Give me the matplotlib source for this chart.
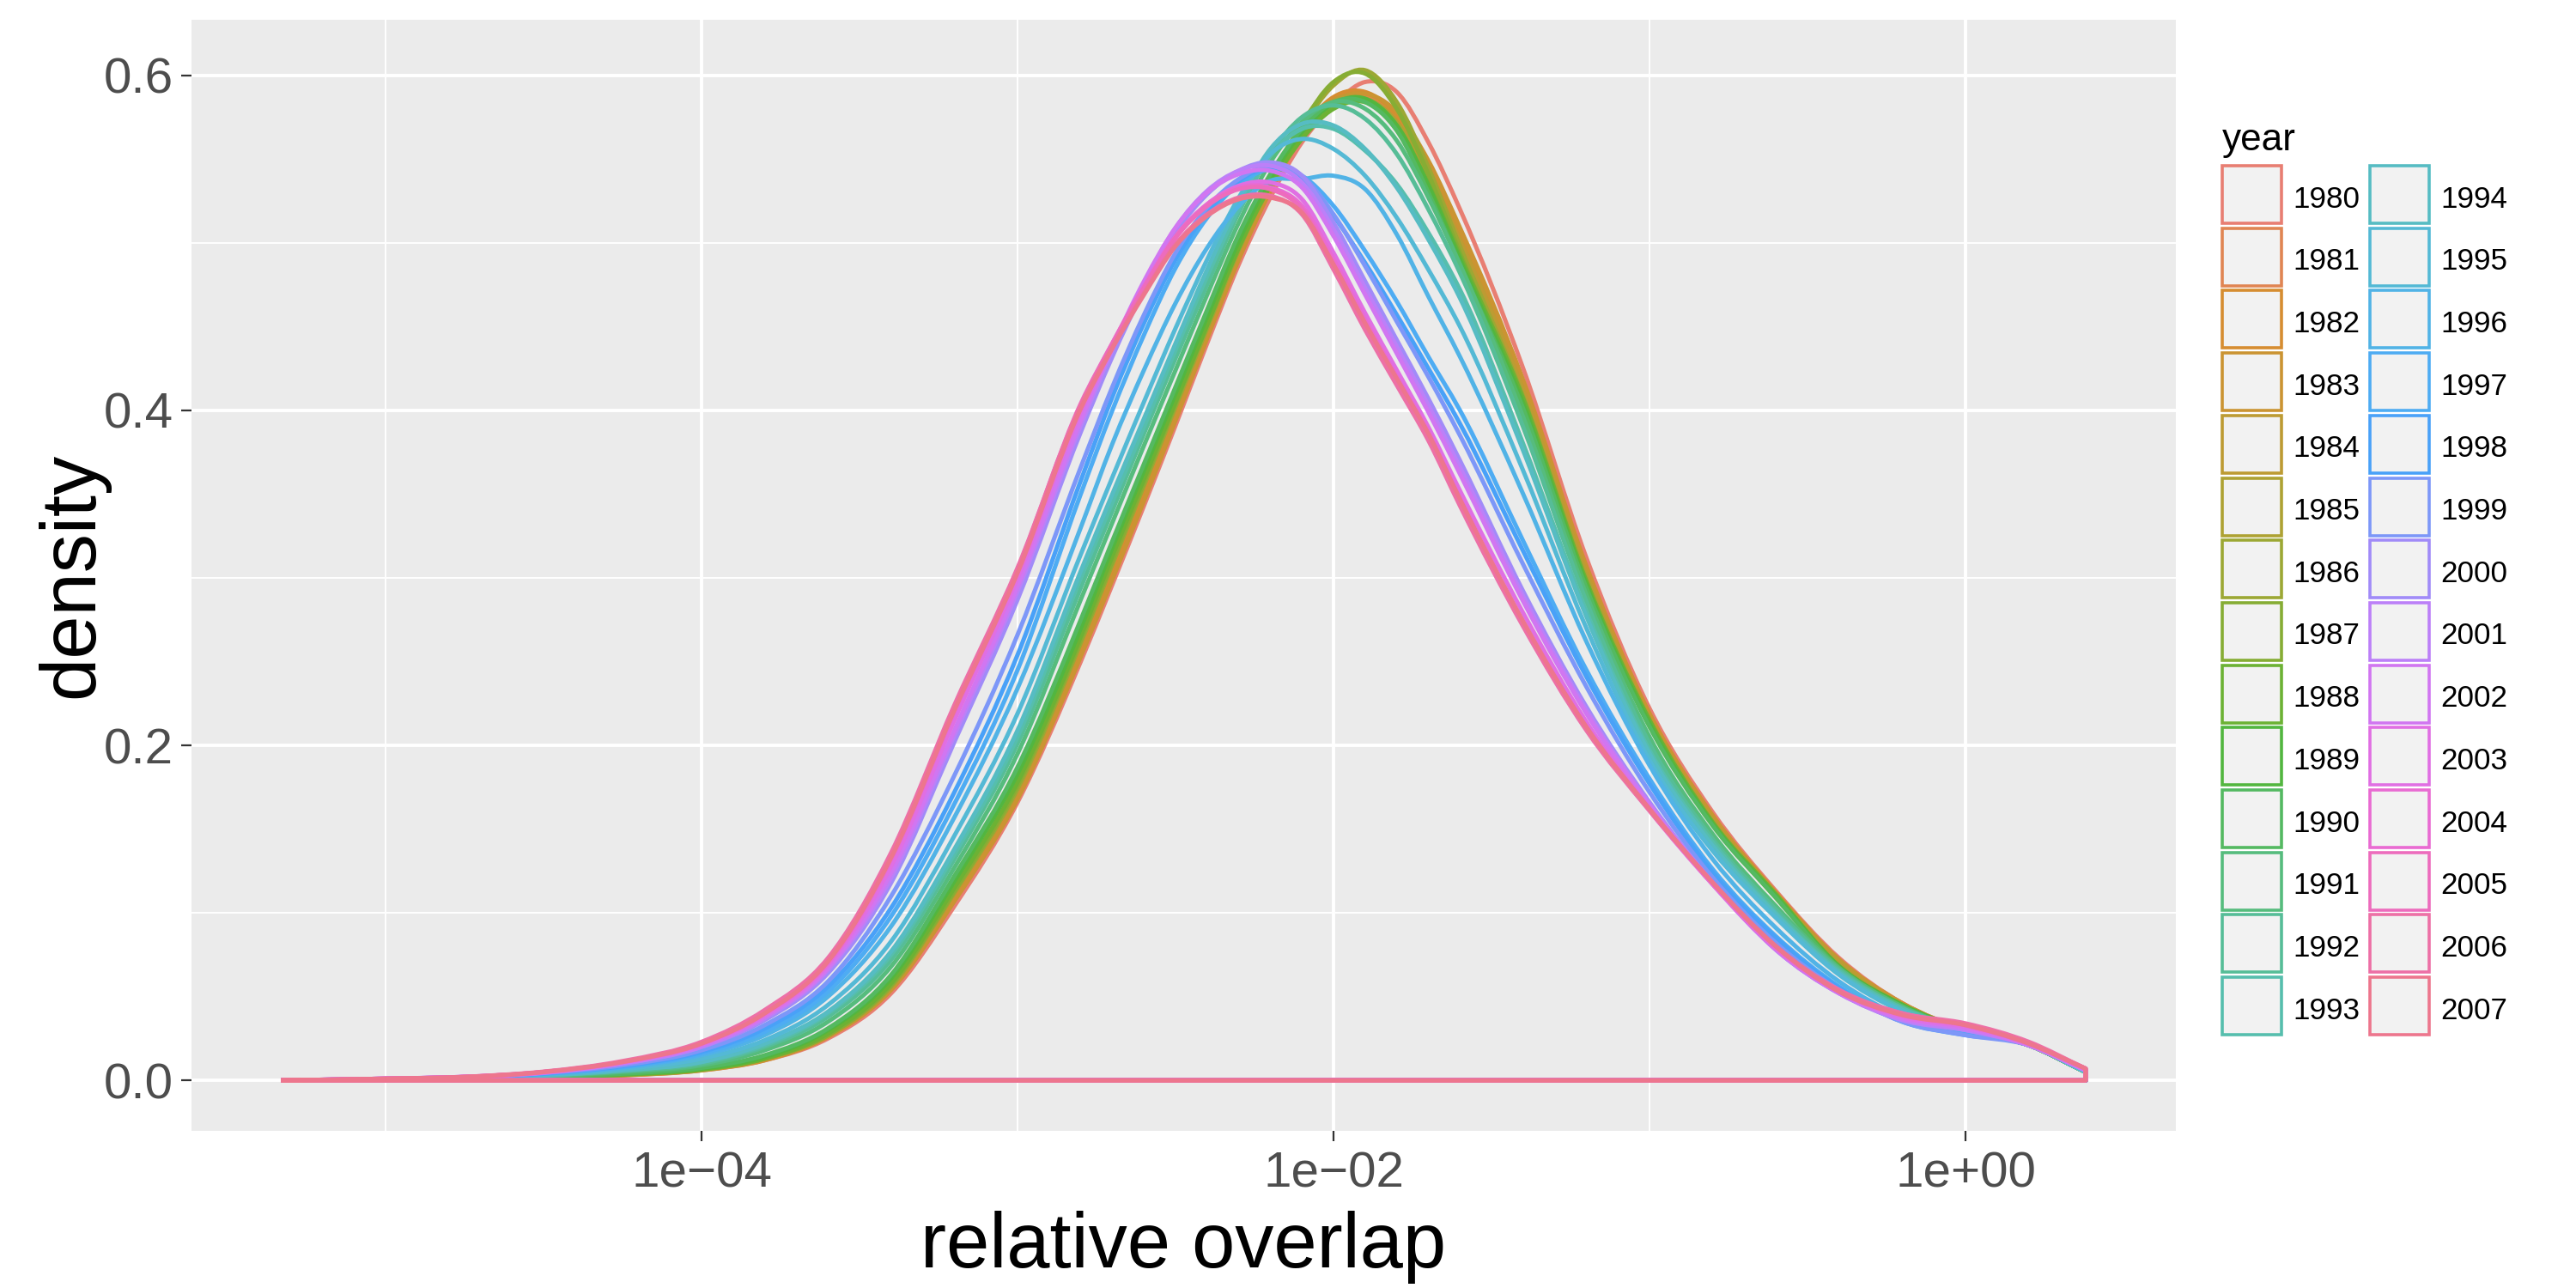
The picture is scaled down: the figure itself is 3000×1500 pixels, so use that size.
import numpy as np
import matplotlib
matplotlib.use("Agg")
import matplotlib.pyplot as plt
from matplotlib.patches import Rectangle, PathPatch
from matplotlib.path import Path
from matplotlib.ticker import FixedLocator, FixedFormatter, NullFormatter

plt.rcParams['font.family'] = ['Liberation Sans', 'DejaVu Sans']

# --- data (density of log10 relative overlap, per year) ---
YEARS = list(range(1980, 2008))

# positions on the x axis, as log10(relative overlap)
LOG_X = [-5.33, -5.0, -4.75, -4.5, -4.25, -4.0, -3.8, -3.6, -3.4, -3.2, -3.0,
         -2.8, -2.7, -2.6, -2.5, -2.4, -2.3, -2.2, -2.1, -2.0, -1.9, -1.8,
         -1.7, -1.6, -1.4, -1.2, -1.0, -0.8, -0.6, -0.4, -0.2, 0.0, 0.2, 0.38]

DENSITY = [
    # 1980
    [0, .0004, .0009, .0016, .003, .006, .012, .025, .052, .104, .166, .250, .296, .343, .391, .440, .487,
     .527, .560, .582, .596, .590, .560, .520, .425, .312, .222, .160, .113, .073, .046, .030, .021, .005],
    # 1981
    [0, .0004, .0009, .0017, .0032, .0062, .013, .027, .055, .108, .170, .256, .302, .350, .398, .446, .493,
     .533, .565, .584, .588, .574, .545, .505, .414, .305, .218, .158, .112, .072, .046, .030, .021, .005],
    # 1982
    [0, .0005, .001, .0018, .0034, .0065, .013, .027, .056, .110, .172, .258, .305, .352, .400, .448, .495,
     .535, .567, .587, .590, .576, .546, .506, .414, .304, .217, .157, .111, .071, .045, .030, .021, .005],
    # 1983
    [0, .0004, .0009, .0016, .003, .006, .012, .026, .054, .107, .168, .253, .299, .346, .394, .443, .490,
     .531, .563, .584, .589, .578, .549, .509, .418, .307, .219, .158, .112, .072, .046, .030, .021, .005],
    # 1984
    [0, .0005, .001, .0018, .0035, .0066, .014, .029, .058, .113, .176, .262, .309, .356, .403, .450, .496,
     .535, .566, .585, .586, .572, .542, .502, .412, .303, .216, .156, .111, .071, .045, .030, .021, .005],
    # 1985
    [0, .0005, .001, .0018, .0035, .0065, .013, .028, .058, .115, .178, .265, .312, .358, .404, .450, .496,
     .534, .563, .581, .586, .572, .538, .495, .408, .300, .215, .154, .110, .069, .045, .030, .021, .005],
    # 1986
    [0, .0005, .001, .0017, .0033, .0063, .013, .027, .056, .112, .174, .261, .308, .355, .402, .449, .496,
     .536, .569, .594, .603, .584, .545, .498, .408, .298, .213, .153, .110, .068, .045, .030, .021, .005],
    # 1987
    [0, .0005, .001, .0018, .0034, .0064, .013, .027, .057, .113, .176, .263, .310, .357, .404, .451, .498,
     .538, .571, .596, .601, .580, .541, .494, .405, .297, .213, .153, .109, .068, .045, .030, .021, .005],
    # 1988
    [0, .0005, .001, .0018, .0035, .0065, .013, .028, .058, .115, .178, .265, .313, .359, .405, .451, .497,
     .534, .562, .580, .584, .570, .535, .492, .407, .298, .215, .154, .111, .068, .045, .030, .021, .005],
    # 1989
    [0, .0006, .0012, .002, .0038, .007, .014, .030, .061, .119, .183, .270, .318, .364, .410, .456, .501,
     .538, .566, .583, .586, .570, .534, .490, .404, .296, .213, .153, .110, .068, .045, .030, .021, .005],
    # 1990
    [0, .0006, .0012, .0021, .004, .0075, .015, .031, .063, .122, .187, .275, .322, .368, .414, .460, .505,
     .541, .568, .584, .584, .567, .530, .487, .401, .294, .211, .152, .109, .067, .044, .030, .021, .005],
    # 1991
    [0, .0006, .0013, .0025, .005, .009, .018, .035, .068, .127, .195, .287, .333, .379, .424, .469, .512,
     .548, .572, .584, .580, .561, .527, .487, .396, .290, .205, .147, .104, .067, .044, .030, .021, .005],
    # 1992
    [0, .0007, .0014, .0028, .0055, .010, .020, .038, .072, .132, .201, .294, .340, .386, .431, .475, .518,
     .553, .575, .582, .574, .553, .520, .482, .390, .286, .201, .144, .102, .066, .043, .030, .021, .005],
    # 1993
    [0, .0007, .0014, .003, .006, .011, .021, .040, .075, .135, .205, .300, .345, .390, .436, .480, .520,
     .552, .568, .568, .555, .535, .506, .472, .380, .280, .197, .142, .100, .065, .043, .030, .021, .005],
    # 1994
    [0, .0007, .0015, .003, .006, .011, .022, .041, .077, .138, .209, .304, .350, .395, .440, .484, .524,
     .556, .571, .570, .556, .533, .502, .467, .376, .277, .195, .140, .099, .064, .042, .029, .021, .005],
    # 1995
    [0, .0008, .0016, .0034, .0068, .013, .024, .045, .083, .146, .219, .314, .360, .405, .449, .490, .527,
     .553, .562, .556, .540, .515, .484, .450, .364, .270, .191, .137, .097, .063, .041, .029, .021, .005],
    # 1996
    [0, .0008, .0017, .0038, .0076, .015, .027, .050, .092, .157, .234, .330, .380, .424, .464, .497, .522,
     .537, .538, .540, .532, .505, .468, .432, .350, .262, .188, .132, .091, .059, .038, .028, .022, .006],
    # 1997
    [0, .0008, .0017, .004, .008, .016, .029, .053, .098, .165, .245, .350, .400, .445, .485, .515, .535,
     .544, .540, .522, .495, .465, .432, .400, .322, .245, .180, .126, .086, .056, .036, .028, .022, .006],
    # 1998
    [0, .0009, .0018, .0042, .0085, .017, .031, .056, .103, .172, .254, .358, .408, .452, .490, .518, .537,
     .545, .538, .516, .488, .457, .425, .392, .316, .241, .177, .124, .085, .055, .035, .027, .022, .006],
    # 1999
    [0, .0009, .0019, .0044, .009, .018, .033, .059, .110, .182, .266, .366, .414, .457, .494, .521, .538,
     .546, .540, .517, .486, .453, .420, .385, .308, .235, .172, .121, .082, .054, .035, .027, .021, .006],
    # 2000
    [0, .001, .002, .0045, .010, .020, .036, .064, .118, .202, .287, .387, .432, .472, .506, .529, .543,
     .548, .540, .512, .477, .442, .407, .370, .292, .223, .166, .118, .078, .052, .036, .030, .021, .006],
    # 2001
    [0, .001, .002, .0046, .010, .020, .037, .066, .121, .206, .292, .391, .436, .476, .509, .531, .543,
     .546, .536, .508, .473, .438, .403, .366, .289, .221, .165, .118, .078, .052, .036, .030, .021, .006],
    # 2002
    [0, .001, .0021, .0047, .0105, .021, .038, .067, .124, .209, .295, .394, .438, .477, .509, .530, .541,
     .543, .533, .504, .469, .434, .399, .362, .286, .219, .164, .117, .078, .052, .037, .031, .021, .006],
    # 2003
    [0, .001, .0021, .0048, .0108, .0215, .039, .069, .128, .215, .300, .399, .437, .472, .503, .523, .534,
     .536, .526, .494, .458, .424, .390, .352, .279, .214, .162, .117, .079, .053, .038, .032, .022, .007],
    # 2004
    [0, .001, .002, .005, .011, .022, .040, .070, .132, .220, .304, .403, .440, .474, .504, .523, .533,
     .533, .522, .490, .454, .420, .387, .347, .273, .211, .161, .117, .079, .053, .039, .033, .022, .007],
    # 2005
    [0, .001, .002, .005, .011, .022, .041, .071, .134, .222, .305, .404, .440, .473, .503, .522, .532,
     .532, .520, .487, .451, .417, .384, .345, .272, .210, .162, .118, .080, .053, .040, .033, .022, .007],
    # 2006
    [0, .001, .0021, .0052, .0115, .023, .042, .073, .136, .224, .306, .403, .438, .470, .499, .517, .527,
     .528, .517, .484, .448, .415, .382, .343, .271, .209, .161, .118, .080, .054, .040, .034, .023, .007],
    # 2007
    [0, .001, .002, .005, .011, .022, .040, .071, .133, .221, .303, .401, .437, .469, .498, .516, .526,
     .527, .518, .487, .452, .419, .386, .347, .274, .211, .162, .118, .080, .053, .039, .033, .022, .007],
]

X_TICKS = [1e-4, 1e-2, 1e0]
X_TICK_LABELS = ["1e\u221204", "1e\u221202", "1e+00"]
X_MINOR = [1e-5, 1e-3, 1e-1]
Y_TICKS = [0.0, 0.2, 0.4, 0.6]
Y_TICK_LABELS = ["0.0", "0.2", "0.4", "0.6"]
Y_MINOR = [0.1, 0.3, 0.5]

W, H = 3000, 1500  # output size in pixels


def hue_colors(n, c=100, l=65):
    """ggplot2 hue palette (HCL -> sRGB), then re-encoded the way the
    reference screenshot shows it (sRGB values mapped into Display P3)."""
    hues = np.linspace(15, 375, n + 1)[:-1]
    xn, yn, zn = 95.047, 100.0, 108.883
    un = 4 * xn / (xn + 15 * yn + 3 * zn)
    vn = 9 * yn / (xn + 15 * yn + 3 * zn)
    m = np.array([[3.240479, -1.537150, -0.498535],
                  [-0.969256, 1.875992, 0.041556],
                  [0.055648, -0.204043, 1.057311]])
    to_p3 = np.array([[0.8225, 0.1774, 0.0],
                      [0.0332, 0.9669, 0.0],
                      [0.0171, 0.0724, 0.9108]])
    out = []
    for h in hues:
        hr = np.deg2rad(h)
        u, v = c * np.cos(hr), c * np.sin(hr)
        Y = yn * ((l + 16) / 116) ** 3
        up = u / (13 * l) + un
        vp = v / (13 * l) + vn
        X = 9 * Y * up / (4 * vp)
        Z = -X / 3 - 5 * Y + 3 * Y / vp
        lin = np.clip(m @ (np.array([X, Y, Z]) / 100), 0, 1)   # clipped like R's fixup
        lin = to_p3 @ lin
        rgb = np.where(lin <= 0.0031308, 12.92 * lin, 1.055 * lin ** (1 / 2.4) - 0.055)
        out.append(tuple(np.clip(rgb, 0, 1)))
    return out


def smooth_outline(lx, d):
    """Closed outline (curve + baseline) drawn as cubic Hermite segments in log-x space."""
    lx = np.asarray(lx, float)
    d = np.asarray(d, float)
    h = np.diff(lx)
    s = np.diff(d) / h
    m = np.empty_like(d)
    m[0], m[-1] = s[0], s[-1]
    m[1:-1] = (s[:-1] * h[1:] + s[1:] * h[:-1]) / (h[:-1] + h[1:])
    verts = [(lx[0], d[0])]
    codes = [Path.MOVETO]
    for i in range(len(h)):
        verts += [(lx[i] + h[i] / 3, d[i] + m[i] * h[i] / 3),
                  (lx[i + 1] - h[i] / 3, d[i + 1] - m[i + 1] * h[i] / 3),
                  (lx[i + 1], d[i + 1])]
        codes += [Path.CURVE4] * 3
    verts += [(lx[-1], 0.0), (lx[0], 0.0), (lx[0], d[0])]
    codes += [Path.LINETO, Path.LINETO, Path.LINETO]
    verts = np.array(verts)
    verts[:, 0] = 10 ** verts[:, 0]
    return Path(verts, codes)


def fx(px):
    return px / W


def fy(py):
    return 1 - py / H


def main():
    colors = hue_colors(len(YEARS))

    fig = plt.figure(figsize=(15, 7.5), dpi=200)
    ax = fig.add_axes([fx(222.5), fy(1317), fx(2534) - fx(222.5), fy(23) - fy(1317)])
    ax.set_facecolor('#EBEBEB')
    for s in ax.spines.values():
        s.set_visible(False)

    for year, dens, col in zip(YEARS, DENSITY, colors):
        ax.add_patch(PathPatch(smooth_outline(LOG_X, dens), fill=False, edgecolor=col,
                               lw=1.8, joinstyle='round', zorder=3))

    # ggplot-ish 5% expansion
    lo, hi = min(LOG_X), max(LOG_X)
    pad = 0.05 * (hi - lo)
    ax.set_xscale('log')
    ax.set_xlim(10 ** (lo - pad), 10 ** (hi + pad))
    ymax = max(max(r) for r in DENSITY)
    ax.set_ylim(-0.05 * ymax, 1.05 * ymax)

    ax.xaxis.set_major_locator(FixedLocator(X_TICKS))
    ax.xaxis.set_major_formatter(FixedFormatter(X_TICK_LABELS))
    ax.xaxis.set_minor_locator(FixedLocator(X_MINOR))
    ax.xaxis.set_minor_formatter(NullFormatter())
    ax.yaxis.set_major_locator(FixedLocator(Y_TICKS))
    ax.yaxis.set_major_formatter(FixedFormatter(Y_TICK_LABELS))
    ax.yaxis.set_minor_locator(FixedLocator(Y_MINOR))

    ax.grid(True, which='major', color='white', lw=1.4, zorder=0)
    ax.grid(True, which='minor', color='white', lw=0.7, zorder=0)
    ax.set_axisbelow(True)
    ax.tick_params(which='major', length=4.3, width=0.8, color='#333333',
                   labelcolor='#4D4D4D', labelsize=21)
    ax.tick_params(axis='x', which='major', pad=4)
    ax.tick_params(axis='y', which='major', pad=3.2)
    ax.tick_params(which='minor', length=0)

    ax.set_xlabel("relative overlap", fontsize=32.5, color='black', va='baseline')
    ax.xaxis.set_label_coords(0.5, (1317 - 1476) / 1294)
    ax.set_ylabel("density", fontsize=32.5, color='black', va='center', ha='center')
    ax.yaxis.set_label_coords((85 - 222.5) / 2311.5, 0.5)

    # legend drawn by hand: two columns of 14 keys
    fig.text(fx(2588), fy(175), "year", fontsize=15.9, color='black', va='baseline')
    key_x = [2588, 2760]
    lab_x = [2670, 2842]
    for i, (year, col) in enumerate(zip(YEARS, colors)):
        c, r = divmod(i, 14)
        top = 193 + r * 72.7
        fig.patches.append(Rectangle((fx(key_x[c]), fy(top + 67)), fx(69), 67 / H,
                                     transform=fig.transFigure, facecolor='#F2F2F2',
                                     edgecolor=col, lw=1.3))
        fig.text(fx(lab_x[c]), fy(top + 33.5 + 15), str(year), fontsize=12.6,
                 color='black', va='baseline')

    fig.savefig("out.png", dpi=200, facecolor='white')
    plt.close(fig)


if __name__ == "__main__":
    main()
